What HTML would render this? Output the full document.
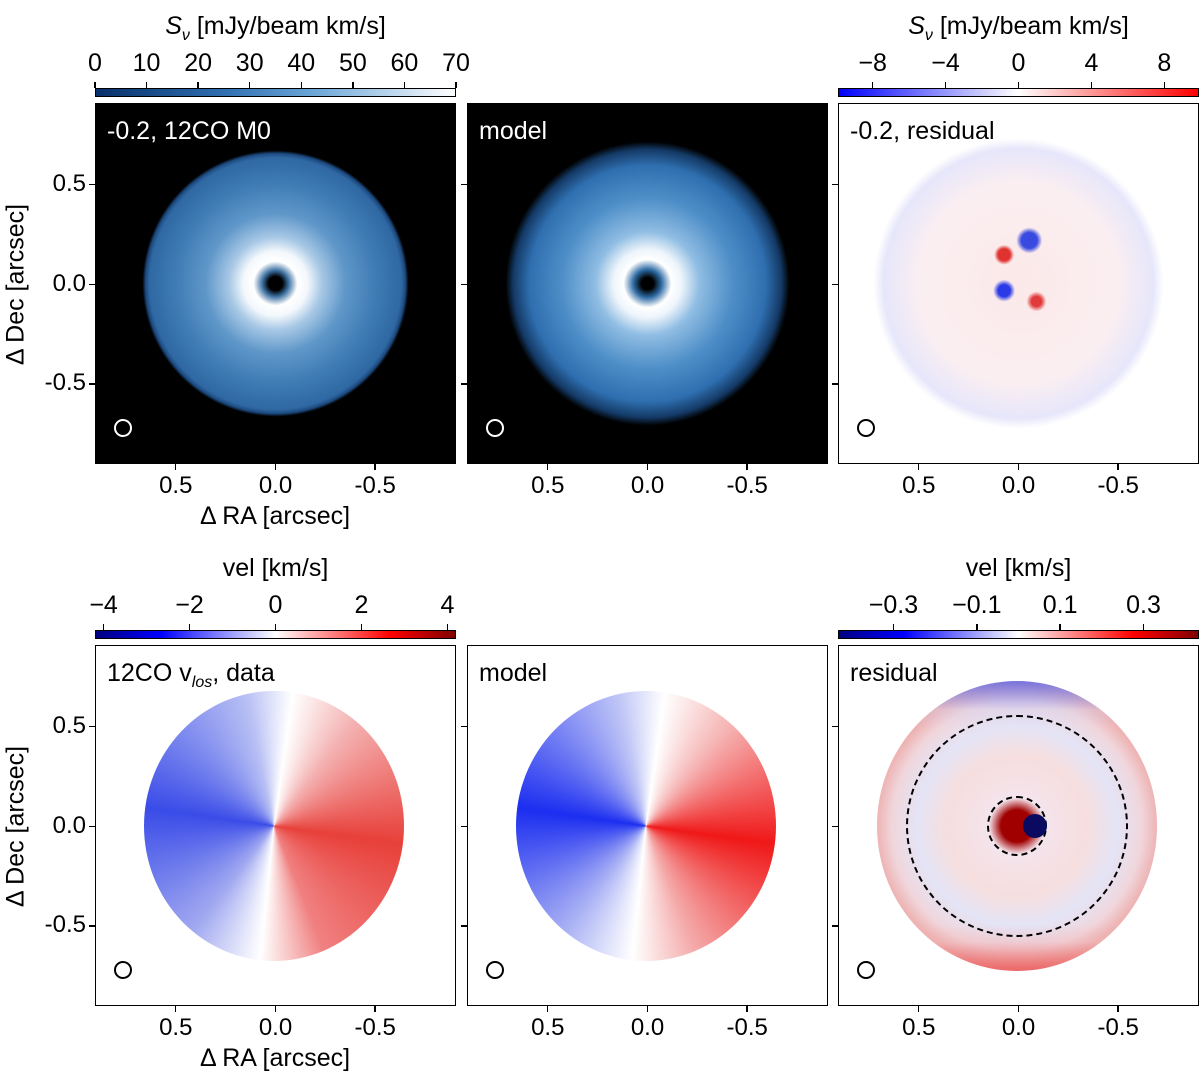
<!DOCTYPE html>
<html><head><meta charset="utf-8">
<style>
body{margin:0;background:#fff;width:1200px;height:1073px;overflow:hidden;font-family:"Liberation Sans","DejaVu Sans",sans-serif;}
#root{position:relative;width:1200px;height:1073px;}
.panel{position:absolute;border:1px solid #000;box-sizing:border-box;overflow:hidden;}
.t{position:absolute;font-size:24px;color:#000;white-space:nowrap;}
.tk{position:absolute;background:#000;}
.cb{position:absolute;border:1px solid #000;box-sizing:border-box;}
.lab{position:absolute;font-size:25px;color:#fff;white-space:nowrap;}
</style></head><body>
<div id="root"></div>
<script>
const root=document.getElementById('root');
const colX=[95,467,838], rowY=[103,645], S=361;
const xTickVals=[0.5,0.0,-0.5];
const xTickLabels=["0.5","0.0","-0.5"];
const yTickVals=[0.5,0.0,-0.5];
const yTickLabels=["0.5","0.0","-0.5"];
const extent=0.905;
const cb1Ticks=[0,10,20,30,40,50,60,70], cb1Range=[0,70];
const cb2Ticks=[-8,-4,0,4,8], cb2Range=[-9.9,9.9];
const cb3Ticks=[-4,-2,0,2,4], cb3Range=[-4.2,4.2];
const cb4Ticks=[-0.3,-0.1,0.1,0.3], cb4Range=[-0.433,0.433];
function ax(x0,v){return x0+S/2-v/extent*S/2;}
function ay(y0,v){return y0+S/2-v/extent*S/2;}
function el(tag,cls,css,name,txt){const e=document.createElement(tag);if(cls)e.className=cls;e.style.cssText=css;


if(txt!==undefined)e.innerHTML=txt;root.appendChild(e);return e;}
const bgs=[
 ["background:#000","radial-gradient(circle at 50% 50%,#000 0px,#000 7px,#3a6fa0 13px,#fff 22px,#f4f8fc 32px,#a9c9e6 46px,#5f97c9 70px,#3f7cb4 100px,#2f68a2 126px,#1c4a80 130px,#000 133px)","-0.2, 12CO M0"],
 ["background:#000","radial-gradient(circle at 50% 50%,#000 0px,#000 6px,#2d6aa3 14px,#fff 24px,#eef5fb 34px,#90bde3 52px,#4f8fc8 85px,#2f6fb0 118px,#143a66 134px,#000 142px)","model"],
 ["background:#fff","radial-gradient(circle at 46% 42%,#e0332f 0,#e0332f 6px,transparent 10px),radial-gradient(circle at 53% 38%,#3748e0 0,#3a4be0 8px,transparent 13px),radial-gradient(circle at 46% 52%,#2a3ae6 0,#2a3ae6 6px,transparent 11px),radial-gradient(circle at 55% 55%,#e03a3a 0,#e03a3a 5px,transparent 10px),radial-gradient(circle at 50% 50%,rgba(245,190,190,0.35) 0,rgba(240,200,210,0.3) 100px,rgba(200,200,245,0.45) 135px,transparent 145px)","-0.2, residual"]];
const vbg=[
 ["conic-gradient(from 8deg,#fff 0deg,#f4b0b0 30deg,#e8403a 90deg,#f08080 150deg,#fff 178deg,#a0a8f0 210deg,#3a4ce8 270deg,#b8c0f4 340deg,#fff 360deg)",130,"12CO v<sub style='font-size:16px;font-style:italic'>los</sub>, data"],
 ["conic-gradient(from 8deg,#fff 0deg,#f6b8b8 30deg,#f01818 90deg,#f4a8a8 150deg,#fff 178deg,#a8b0f4 210deg,#1c2ef0 270deg,#c0c6f6 340deg,#fff 360deg)",130,"model"],
 ["linear-gradient(180deg,rgba(80,95,235,0.75) 0,rgba(200,205,245,0.3) 10%,transparent 16%),linear-gradient(0deg,rgba(235,70,70,0.7) 0,rgba(240,170,170,0.3) 10%,transparent 16%),radial-gradient(circle,#a00000 0,#a00000 16px,#f4e4ec 28px,#f6dede 70px,#e4e4f6 100px,#f0d6dc 125px,#eeb4b4 140px)",140,"residual"]];
for(let c=0;c<3;c++){
 const x0=colX[c],y0=rowY[0];
 el('div','panel',`left:${x0}px;top:${y0}px;width:${S}px;height:${S}px;${bgs[c][0]};background-image:${bgs[c][1]}`,'moment0-panel-'+(c+1));
 el('div','lab',`left:${x0+12}px;top:${y0+14}px;color:${c==2?'#000':'#fff'}`,'panel-label-top-'+(c+1),bgs[c][2]);
 el('div','',`position:absolute;left:${x0+28-9}px;top:${y0+325-9}px;width:14px;height:14px;border:2px solid ${c==2?'#000':'#fff'};border-radius:50%`,'beam-top-'+(c+1));
 const y1=rowY[1];
 el('div','panel',`left:${x0}px;top:${y1}px;width:${S}px;height:${S}px;background:#fff`,'velocity-panel-'+(c+1));
 const r=vbg[c][1],cx=x0+S/2-2,cy=y1+S/2;
 el('div','',`position:absolute;left:${cx-r}px;top:${cy-r-5}px;width:${2*r}px;height:${2*r+10}px;border-radius:50%;background:${vbg[c][0]}`,'velocity-disk-'+(c+1));
 if(c==2){
  el('div','',`position:absolute;left:${cx-111}px;top:${cy-111}px;width:218px;height:218px;border:2px dashed #000;border-radius:50%`,'outer-ring');
  el('div','',`position:absolute;left:${cx-30}px;top:${cy-30}px;width:56px;height:56px;border:2px dashed #000;border-radius:50%`,'inner-ring');
  el('div','',`position:absolute;left:${cx+6}px;top:${cy-12}px;width:24px;height:24px;background:#0a0a60;border-radius:50%`,'blue-core');
 }
 el('div','lab',`left:${x0+12}px;top:${y1+14}px;color:#000`,'panel-label-bottom-'+(c+1),vbg[c][2]);
 el('div','',`position:absolute;left:${x0+28-9}px;top:${y1+325-9}px;width:14px;height:14px;border:2px solid #000;border-radius:50%`,'beam-bottom-'+(c+1));
 for(const y of rowY){
  xTickVals.forEach((v,i)=>{const x=ax(x0,v);
   el('div','tk',`left:${x-1}px;top:${y+S}px;width:1.5px;height:6px`,'x-tick');
   el('div','t',`left:${x-30}px;width:60px;text-align:center;top:${y+S+8}px`,'x-tick-label',xTickLabels[i]);});
  yTickVals.forEach(v=>{el('div','tk',`left:${x0-6}px;top:${ay(y,v)}px;width:6px;height:1.5px`,'y-tick');});
 }
}
for(const y of rowY){
 yTickVals.forEach((v,i)=>el('div','t',`left:20px;width:66px;text-align:right;top:${ay(y,v)-14}px`,'y-tick-label',yTickLabels[i]));
 el('div','t',`left:-84px;top:${y+S/2-14}px;width:200px;text-align:center;transform:rotate(-90deg);font-size:25px`,'y-axis-title','Δ Dec [arcsec]');
}
el('div','t',`left:170px;top:502px;width:210px;text-align:center;font-size:25px`,'x-axis-title','Δ RA [arcsec]');
el('div','t',`left:170px;top:1044px;width:210px;text-align:center;font-size:25px`,'x-axis-title-bottom','Δ RA [arcsec]');
function cbar(x0,y,ticks,range,grad,title,name){
 el('div','cb',`left:${x0}px;top:${y}px;width:${S}px;height:9px;background:${grad}`,name);
 el('div','t',`left:${x0}px;width:${S}px;text-align:center;top:${y-76}px;font-size:25px`,name+'-title',title);
 ticks.forEach(v=>{const x=x0+(v-range[0])/(range[1]-range[0])*S;
  el('div','tk',`left:${x-0.75}px;top:${y-6}px;width:1.5px;height:6px`,name+'-tick');
  el('div','t',`left:${x-40}px;width:80px;text-align:center;top:${y-39}px;font-size:25px`,name+'-tick-label',String(v).replace('-','−'));});
}
cbar(colX[0],88,cb1Ticks,cb1Range,'linear-gradient(90deg,#08306b,#2f6eb0 35%,#6aa5d6 60%,#c6dcef 85%,#fff)','<i>S<sub style="font-size:16px">ν</sub></i> [mJy/beam km/s]','colorbar-flux');
cbar(colX[2],88,cb2Ticks,cb2Range,'linear-gradient(90deg,#0000ff,#fff 50%,#ff0000)','<i>S<sub style="font-size:16px">ν</sub></i> [mJy/beam km/s]','colorbar-residual');
cbar(colX[0],630,cb3Ticks,cb3Range,'linear-gradient(90deg,#00007f,#0000ff 18%,#fff 50%,#ff0000 82%,#7f0000)','vel [km/s]','colorbar-vel');
cbar(colX[2],630,cb4Ticks,cb4Range,'linear-gradient(90deg,#00007f,#0000ff 18%,#fff 50%,#ff0000 82%,#7f0000)','vel [km/s]','colorbar-vel-res');
</script>
</body></html>
